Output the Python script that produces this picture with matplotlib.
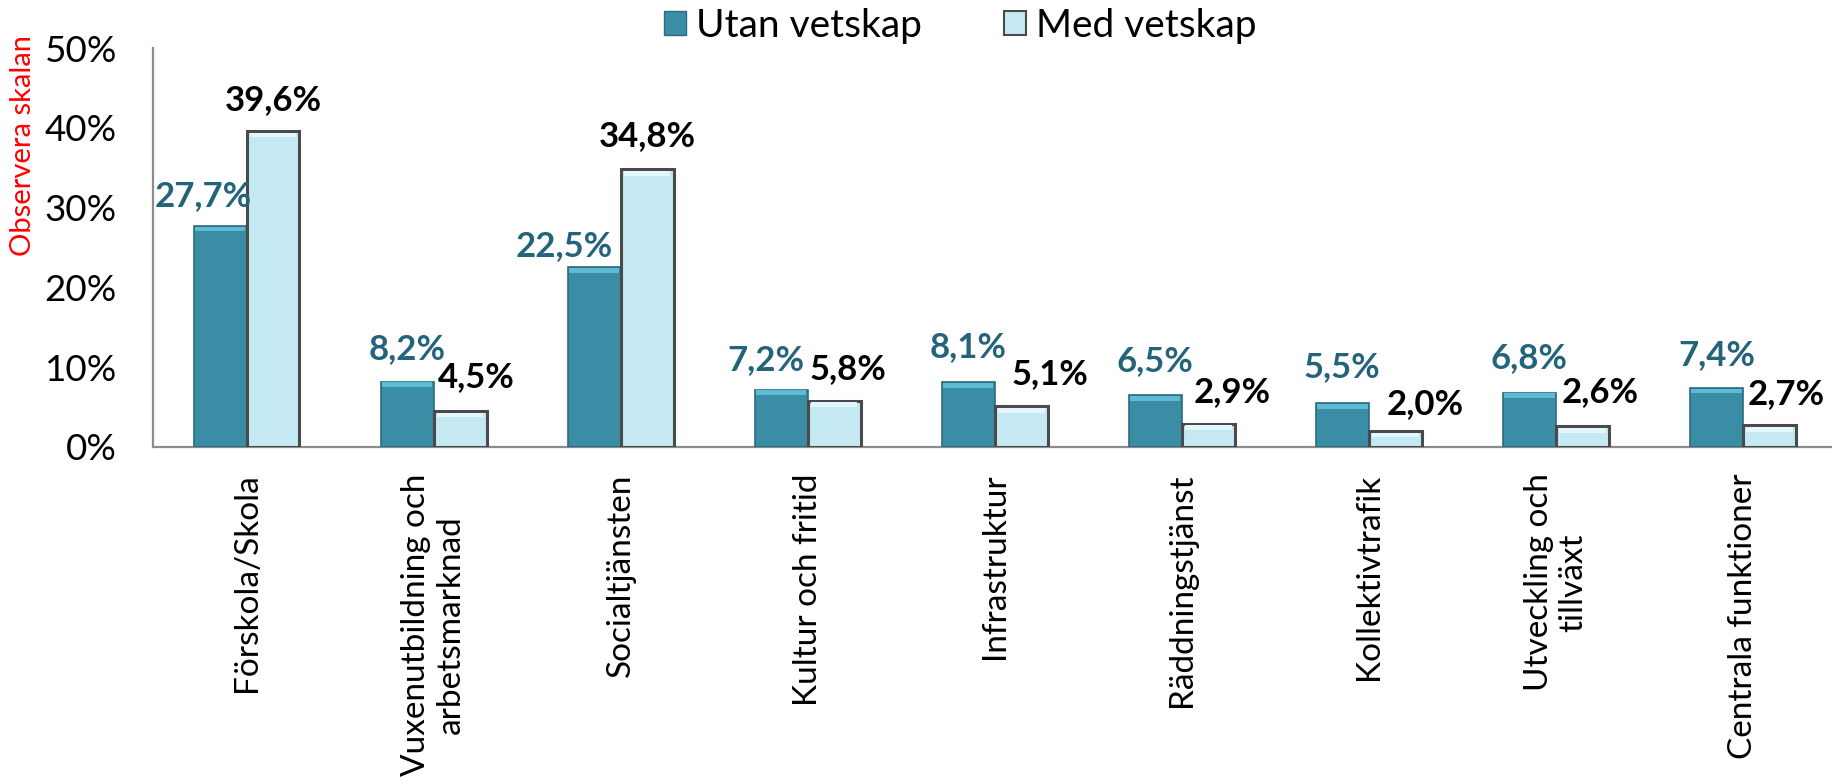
import matplotlib
matplotlib.use("Agg")
import matplotlib.pyplot as plt
from matplotlib.patches import Patch
import numpy as np

# ---- data ----
categories = ["Förskola/Skola", "Vuxenutbildning och\narbetsmarknad", "Socialtjänsten",
              "Kultur och fritid", "Infrastruktur", "Räddningstjänst", "Kollektivtrafik",
              "Utveckling och\ntillväxt", "Centrala funktioner"]
utan_vetskap = [27.7, 8.2, 22.5, 7.2, 8.1, 6.5, 5.5, 6.8, 7.4]
med_vetskap = [39.6, 4.5, 34.8, 5.8, 5.1, 2.9, 2.0, 2.6, 2.7]
series_names = ["Utan vetskap", "Med vetskap"]
y_ticks = [0, 10, 20, 30, 40, 50]

# label offsets (pixels) relative to bar top-centre, as in reference layout
utan_dx = [-17, 0, -30, -15, 0, 0, 0, 0, 0]
utan_dy = [30, 33, 21, 29, 35, 34, 36, 35, 33]
med_dx = [0, 16, 0, 14, 29, 24, 30, 18, 17]
med_dy = [31, 34, 33, 32, 32, 32, 27, 34, 31]

plt.rcParams['font.family'] = ['Lato', 'DejaVu Sans']

W, H, DPI = 1832, 784, 100
fig = plt.figure(figsize=(W / DPI, H / DPI), dpi=DPI)
ax = fig.add_axes([153 / W, 1 - 447 / H, 1683.5 / W, (447 - 48) / H])

x = np.arange(len(categories))
w = 0.283
dark = '#3A8DA5'
dark_edge = '#2A6B7E'
light = '#C4E9F3'
light_edge = '#4A4A4A'

ax.bar(x - w / 2, utan_vetskap, w, color=dark, edgecolor=dark_edge, linewidth=1.2, zorder=3)
ax.bar(x + w / 2, med_vetskap, w, color=light, edgecolor=light_edge, linewidth=2.2, zorder=3)

# bevel highlights on top of each bar (derived from bar geometry)
bev = 0.6
ax.bar(x - w / 2, [bev] * len(x), w * 0.95, bottom=np.array(utan_vetskap) - bev - 0.08,
       color='#5FBAD4', linewidth=0, zorder=4)
ax.bar(x + w / 2, [bev] * len(x), w * 0.88, bottom=np.array(med_vetskap) - bev - 0.2,
       color='#E3F6FB', linewidth=0, zorder=4)

ax.set_xlim(-0.5, len(categories) - 0.5)
ax.set_ylim(0, 50)
ax.set_yticks(y_ticks)
ax.set_yticklabels([f"{t}%" for t in y_ticks])
ax.set_xticks(x)
ax.set_xticklabels(categories, rotation=90, ha='center', va='top', multialignment='center')
ax.tick_params(axis='y', length=0, pad=26, labelsize=26.5)
ax.tick_params(axis='x', length=0, pad=19, labelsize=24)

for s in ['top', 'right']:
    ax.spines[s].set_visible(False)
for s in ['left', 'bottom']:
    ax.spines[s].set_color('#8C8C8C')
    ax.spines[s].set_linewidth(1.6)

pt = 72 / DPI
fmt = lambda v: f"{v:.1f}%".replace('.', ',')
for i, v in enumerate(utan_vetskap):
    ax.annotate(fmt(v), (x[i] - w / 2, v), xytext=(utan_dx[i] * pt, utan_dy[i] * pt),
                textcoords='offset points', ha='center', va='center',
                fontsize=25, fontweight='bold', color='#24647A', zorder=5)
for i, v in enumerate(med_vetskap):
    ax.annotate(fmt(v), (x[i] + w / 2, v), xytext=(med_dx[i] * pt, med_dy[i] * pt),
                textcoords='offset points', ha='center', va='center',
                fontsize=25, fontweight='bold', color='black', zorder=5)

fig.text(23 / W, 1 - 145 / H, "Observera skalan", rotation=90, color='red',
         fontsize=21, ha='center', va='center')

handles = [Patch(facecolor=dark, edgecolor=dark_edge, linewidth=1.0),
           Patch(facecolor=light, edgecolor=light_edge, linewidth=1.5)]
fig.legend(handles, series_names, loc='center', bbox_to_anchor=(960 / W, 1 - 26 / H),
           ncol=2, frameon=False, fontsize=28, handlelength=0.58, handleheight=0.58,
           handletextpad=0.25, columnspacing=2.1, borderpad=0, borderaxespad=0)

fig.savefig("out.png", dpi=DPI)
